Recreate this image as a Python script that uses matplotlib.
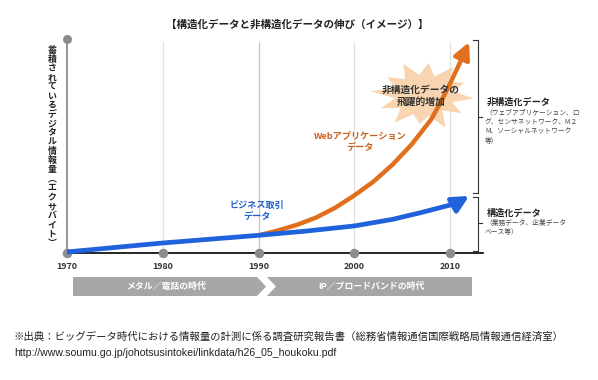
import matplotlib
matplotlib.use("Agg")
import matplotlib.pyplot as plt
import matplotlib.transforms as mtransforms
from matplotlib.patches import Polygon
import numpy as np

plt.rcParams['font.family'] = ['Noto Sans CJK JP', 'DejaVu Sans']

# ---- data ----
title = "【構造化データと非構造化データの伸び（イメージ）】"
ylabel = "蓄積されているデジタル情報量︵エクサバイト︶"
tick_years = [1970, 1980, 1990, 2000, 2010]
tick_labels = ["1970", "1980", "1990", "2000", "2010"]

struct_years = [1970, 1975, 1980, 1985, 1990, 1995, 2000, 2004, 2007, 2010, 2011, 2012]
struct_vals = [0.5, 2.6, 4.7, 6.5, 8.3, 10.3, 12.7, 15.8, 19.0, 22.5, 24.2, 26.8]

unstruct_years = [1990, 1992, 1994, 1996, 1998, 2000, 2002, 2004, 2006, 2008, 2009, 2010, 2011, 2012]
unstruct_vals = [8.3, 10.5, 13.2, 16.6, 21.2, 27.0, 33.5, 41.5, 51.0, 62.5, 70.5, 79.5, 89.0, 99.0]

periods = ["メタル／電話の時代", "IP／ブロードバンドの時代"]
label_struct = "ビジネス取引\nデータ"
label_unstruct = "Webアプリケーション\nデータ"
burst_text = "非構造化データの\n飛躍的増加"
right_unstruct_title = "非構造化データ"
right_unstruct_sub = "（ウェブアプリケーション、ロ\nグ、センサネットワーク、M２\nM、ソーシャルネットワーク\n等）"
right_struct_title = "構造化データ"
right_struct_sub = "（業務データ、企業データ\nベース等）"
footnote1 = "※出典：ビッグデータ時代における情報量の計測に係る調査研究報告書（総務省情報通信国際戦略局情報通信経済室）"
footnote2 = "http://www.soumu.go.jp/johotsusintokei/linkdata/h26_05_houkoku.pdf"

BLUE = '#1f62dc'
ORANGE = '#e0701e'
GREY = '#8c8c8c'

W, H = 598, 380
fig = plt.figure(figsize=(W / 100, H / 100), dpi=100)
fig.patch.set_facecolor('white')

left_px, base_px, top_px = 67, 253, 40
ppy = 9.575
x0, x1 = 1970, 2014
ax = fig.add_axes([left_px / W, (H - base_px) / H, (x1 - x0) * ppy / W, (base_px - top_px) / H])
ax.set_xlim(x0, x1)
ax.set_ylim(0, 100)
ax.axis('off')
ax.patch.set_alpha(0)

# pixel transform (origin top-left)
P = mtransforms.Affine2D().scale(1 / W, -1 / H).translate(0, 1) + fig.transFigure

# gridlines
for yr in tick_years[1:]:
    ax.vlines(yr, 0, 99, colors='#c4c4c4' if yr == 1990 else '#e0e0e0', lw=0.9, zorder=0.5)
# y axis line and top dot
ax.plot([1970, 1970], [0, 100.5], color=GREY, lw=1.3, zorder=1, clip_on=False)
ax.scatter([1970], [100.5], s=30, color=GREY, zorder=2, clip_on=False)
# baseline
ax.plot([1970, 2013.4], [0, 0], color='black', lw=1.2, zorder=1, clip_on=False)
ax.scatter(tick_years, [0] * len(tick_years), s=34, color=GREY, zorder=2.5, clip_on=False)
for yr, lab in zip(tick_years, tick_labels):
    ax.text(yr, -6.3, lab, ha='center', va='center', fontsize=6.4, color='#333333',
            fontweight='bold', clip_on=False)

# burst shape (in pixels)
cx, cy, rx, ry = 424, 95, 50, 34
radii = [1.0, 0.6, 0.92, 0.58, 1.05, 0.62, 0.85, 0.6, 1.0, 0.6, 0.95, 0.58, 1.08, 0.62, 0.9, 0.6,
         1.0, 0.6, 0.95, 0.58, 1.02, 0.62, 0.88, 0.6]
n = len(radii)
ang = np.linspace(0, 2 * np.pi, n, endpoint=False) + 0.1
pts = [(cx + rx * r * np.cos(a), cy + ry * r * np.sin(a)) for r, a in zip(radii, ang)]
ax.add_patch(Polygon(pts, closed=True, facecolor='#f9d4b0', edgecolor='none',
                     transform=P, clip_on=False, zorder=1.5))

# lines
ax.plot(unstruct_years[:-1], unstruct_vals[:-1], color=ORANGE, lw=3.2, zorder=3,
        solid_capstyle='butt', solid_joinstyle='round', clip_on=False)
ax.annotate('', xy=(unstruct_years[-1], unstruct_vals[-1]),
            xytext=(unstruct_years[-2], unstruct_vals[-2]),
            arrowprops=dict(arrowstyle='-|>,head_length=0.7,head_width=0.35', color=ORANGE,
                            lw=3.2, shrinkA=0, shrinkB=0, mutation_scale=14),
            zorder=3, annotation_clip=False)
ax.plot(struct_years[:-1], struct_vals[:-1], color=BLUE, lw=3.4, zorder=3.2,
        solid_capstyle='butt', solid_joinstyle='round', clip_on=False)
ax.annotate('', xy=(struct_years[-1], struct_vals[-1]),
            xytext=(struct_years[-2], struct_vals[-2]),
            arrowprops=dict(arrowstyle='-|>,head_length=0.7,head_width=0.35', color=BLUE,
                            lw=3.4, shrinkA=0, shrinkB=0, mutation_scale=14),
            zorder=3.2, annotation_clip=False)

ax.text(421, 96, burst_text, transform=P, ha='center', va='center', fontsize=7,
        fontweight='bold', color='#333333', linespacing=1.2, zorder=4)

# series labels
ax.text(257, 210.5, label_struct, transform=P, ha='center', va='center', fontsize=6.6,
        fontweight='bold', color='#2060c8', linespacing=1.25, zorder=4)
ax.text(360, 142, label_unstruct, transform=P, ha='center', va='center', fontsize=6.6,
        fontweight='bold', color='#c8641e', linespacing=1.25, zorder=4)

# title
ax.text(297, 25, title, transform=P, ha='center', va='center', fontsize=7.6,
        fontweight='bold', color='#222222')

# y label (vertical, stacked)
n_ch = len(ylabel)
y_start, y_end = 50, 243
for i, ch in enumerate(ylabel):
    yy = y_start + (y_end - y_start) * i / (n_ch - 1)
    ax.text(52, yy, ch, transform=P, ha='center', va='center', fontsize=6.4,
            fontweight='bold', color='#222222')

# right braces
bx = 478
def brace(y_top, y_bot, y_mid):
    kw = dict(color='#333333', lw=0.8, transform=P, clip_on=False)
    ax.plot([bx, bx], [y_top, y_bot], **kw)
    ax.plot([bx - 5, bx], [y_top, y_top], **kw)
    ax.plot([bx - 5, bx], [y_bot, y_bot], **kw)
    ax.plot([bx, bx + 4], [y_mid, y_mid], **kw)
brace(40, 193, 117)
brace(197, 251, 223)

ax.text(487, 102, right_unstruct_title, transform=P, ha='left', va='center', fontsize=6.6,
        fontweight='bold', color='#222222')
ax.text(485, 126.5, right_unstruct_sub, transform=P, ha='left', va='center', fontsize=4.85,
        color='#444444', linespacing=1.27)
ax.text(487, 213, right_struct_title, transform=P, ha='left', va='center', fontsize=6.6,
        fontweight='bold', color='#222222')
ax.text(485, 227.5, right_struct_sub, transform=P, ha='left', va='center', fontsize=4.85,
        color='#444444', linespacing=1.27)

# period chevrons
yt, yb = 277, 296
ym = (yt + yb) / 2
chev1 = [(73, yt), (257, yt), (266, ym), (257, yb), (73, yb)]
chev2 = [(267, yt), (472, yt), (472, yb), (267, yb), (276, ym)]
for pts_, lab, tx in [(chev1, periods[0], 166), (chev2, periods[1], 371)]:
    ax.add_patch(Polygon(pts_, closed=True, facecolor='#a6a6a6', edgecolor='none',
                         transform=P, clip_on=False, zorder=1))
    ax.text(tx, ym, lab, transform=P, ha='center', va='center', fontsize=6.4,
            fontweight='bold', color='white', zorder=2)

# footnotes
ax.text(14, 337, footnote1, transform=P, ha='left', va='center', fontsize=7.45,
        color='#222222')
ax.text(14, 353, footnote2, transform=P, ha='left', va='center', fontsize=7.55,
        color='#222222', family=['Liberation Sans', 'DejaVu Sans'])

fig.savefig('out.png', dpi=100)
